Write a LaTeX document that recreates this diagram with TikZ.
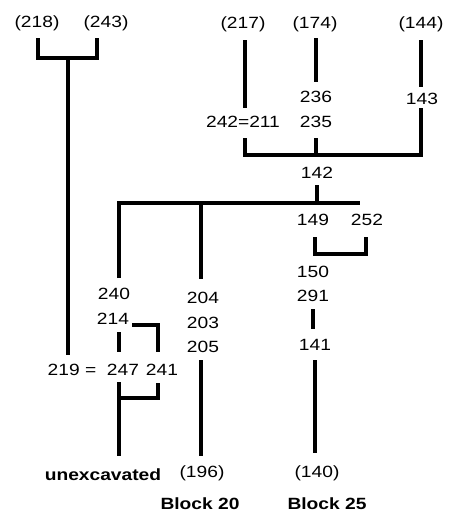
\documentclass[tikz,border=0pt]{standalone}
\usepackage{fontspec}
\setmainfont[FakeStretch=1.18]{Liberation Sans}
\begin{document}
\begin{tikzpicture}[x=0.75pt,y=-0.75pt,
  lbl/.style={inner sep=0pt,font=\fontsize{12.2}{14}\selectfont},
  blbl/.style={inner sep=0pt,font=\fontsize{12.2}{14}\selectfont\bfseries},
  bar/.style={line width=3.7pt,line join=miter,line cap=butt}]
\useasboundingbox (0,0) rectangle (449,514);
% labels
\node[lbl] (t218) at (37,23) {(218)};
\node[lbl] (t243) at (106,23) {(243)};
\node[lbl] (t217) at (243,24) {(217)};
\node[lbl] (t174) at (315,24) {(174)};
\node[lbl] (t144) at (421,24) {(144)};
\node[lbl] (n242) at (243,122) {242=211};
\node[lbl] (n236) at (316,97) {236};
\node[lbl] (n235) at (316,122) {235};
\node[lbl] (n143) at (422,99) {143};
\node[lbl] (n142) at (317,173) {142};
\node[lbl] (n149) at (313,220) {149};
\node[lbl] (n252) at (367,220) {252};
\node[lbl] (n150) at (313,272) {150};
\node[lbl] (n291) at (313,296) {291};
\node[lbl] (n141) at (315,345) {141};
\node[lbl] (n240) at (114,294) {240};
\node[lbl] (n214) at (113,319) {214};
\node[lbl] (n204) at (203,298) {204};
\node[lbl] (n203) at (203,323) {203};
\node[lbl] (n205) at (203,347) {205};
\node[lbl] (n219) at (72,370) {219 =};
\node[lbl] (n247) at (123,370) {247};
\node[lbl] (n241) at (162,370) {241};
\node[lbl] (t196) at (202,473) {(196)};
\node[lbl] (t140) at (317,473) {(140)};
\node[blbl] (unex) at (103,475) {unexcavated};
\node[blbl] (b20) at (200,504) {Block 20};
\node[blbl] (b25) at (327,504) {Block 25};
% junction coordinates
\coordinate (a1) at (38,38);
\coordinate (a2) at (38,58);
\coordinate (a3) at (97,58);
\coordinate (a4) at (97,38);
\coordinate (a5) at (68,58);
\coordinate (a6) at (68,355);
\coordinate (b1) at (245,40);
\coordinate (b2) at (245,108);
\coordinate (c1) at (316,38);
\coordinate (c2) at (316,82);
\coordinate (d1) at (421,40);
\coordinate (d2) at (421,87);
\coordinate (e1) at (245,138);
\coordinate (e2) at (245,155);
\coordinate (e3) at (421,155);
\coordinate (e4) at (421,108);
\coordinate (e5) at (316,138);
\coordinate (e6) at (316,155);
\coordinate (f1) at (317,185);
\coordinate (f2) at (317,203);
\coordinate (g1) at (119,278);
\coordinate (g2) at (119,203);
\coordinate (g3) at (360,203);
\coordinate (g4) at (201,203);
\coordinate (g5) at (201,279);
\coordinate (h1) at (315,237);
\coordinate (h2) at (315,254);
\coordinate (h3) at (366,254);
\coordinate (h4) at (366,237);
\coordinate (i1) at (313,309);
\coordinate (i2) at (313,329);
\coordinate (i3) at (315,360);
\coordinate (i4) at (315,453);
\coordinate (j1) at (119,332);
\coordinate (j2) at (119,352);
\coordinate (j3) at (132,325);
\coordinate (j4) at (158,325);
\coordinate (j5) at (158,352);
\coordinate (k1) at (119,382);
\coordinate (k2) at (119,456);
\coordinate (k3) at (158,383);
\coordinate (k4) at (158,398);
\coordinate (k5) at (119,398);
\coordinate (m1) at (201,360);
\coordinate (m2) at (201,456);
% bars
\draw[bar] (a1) -- (a2) -- (a3) -- (a4);
\draw[bar] (a5) -- (a6);
\draw[bar] (b1) -- (b2);
\draw[bar] (c1) -- (c2);
\draw[bar] (d1) -- (d2);
\draw[bar] (e1) -- (e2) -- (e3) -- (e4);
\draw[bar] (e5) -- (e6);
\draw[bar] (f1) -- (f2);
\draw[bar] (g1) -- (g2) -- (g3);
\draw[bar] (g4) -- (g5);
\draw[bar] (h1) -- (h2) -- (h3) -- (h4);
\draw[bar] (i1) -- (i2);
\draw[bar] (i3) -- (i4);
\draw[bar] (j1) -- (j2);
\draw[bar] (j3) -- (j4) -- (j5);
\draw[bar] (k1) -- (k2);
\draw[bar] (k3) -- (k4) -- (k5);
\draw[bar] (m1) -- (m2);
\end{tikzpicture}
\end{document}
